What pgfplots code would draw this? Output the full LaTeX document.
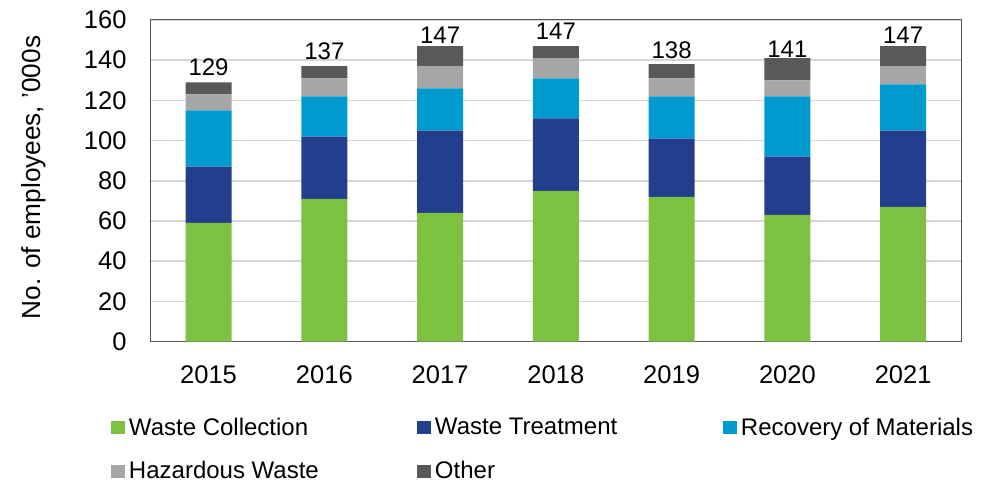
\documentclass[border=0pt]{standalone}
\usepackage{pgfplots}
\pgfplotsset{compat=1.18}
\usepackage{pgfplotstable}
\usepackage{fontspec}
\setmainfont{Liberation Sans}
\definecolor{cgreen}{HTML}{7DC142}
\definecolor{cdblue}{HTML}{233E8C}
\definecolor{clblue}{HTML}{009BCE}
\definecolor{cgray}{HTML}{A6A6A6}
\definecolor{cdgray}{HTML}{595959}
\definecolor{gridgray}{HTML}{D6D6D6}
\definecolor{framegray}{HTML}{555555}
\pgfplotstableread{
x wc wt rm hw ot total
0 59 28 28 8 6 129
1 71 31 20 9 6 137
2 64 41 21 11 10 147
3 75 36 20 10 6 147
4 72 29 21 9 7 138
5 63 29 30 8 11 141
6 67 38 23 9 10 147
}\datatab
\begin{document}
\begin{tikzpicture}
\path[use as bounding box] (0,0) rectangle (993pt,485pt);
\begin{axis}[
  at={(150.7pt,143.5pt)}, anchor=south west,
  width=810.3pt, height=321.5pt, scale only axis,
  ybar stacked, bar width=46pt,
  xmin=-0.5, xmax=6.5, ymin=0, ymax=160,
  enlargelimits=false,
  xtick={0,1,2,3,4,5,6},
  xticklabels={2015,2016,2017,2018,2019,2020,2021},
  ytick={0,20,...,160},
  ymajorgrids, grid style={line width=1.5pt, color=gridgray},
  major tick length=0pt,
  axis line style={draw=framegray, line width=1pt},
  /pgf/number format/assume math mode=true,
  tick label style={font=\fontsize{25.5}{30}\selectfont},
  yticklabel style={inner sep=0pt, xshift=-24pt},
  xticklabel style={inner sep=0pt, yshift=-23.5pt},
  ylabel={No. of employees, '000s},
  ylabel style={at={(axis description cs:-0.136,0.51)}, anchor=base, inner sep=0pt, font=\fontsize{26.2}{31}\selectfont},
  legend columns=3,
  legend cell align=left,
  legend image code/.code={\fill[#1] (0pt,-6.5pt) rectangle (14pt,6.5pt);},
  legend style={at={(axis description cs:-0.049,-0.237)}, anchor=north west,
    draw=none, fill=none, inner sep=0pt, outer sep=0pt,
    column sep=0pt, row sep=25pt,
    font=\fontsize{24}{28}\selectfont, nodes={inner sep=0pt}},
]
\addplot[fill=cgreen, draw=none] table[x=x, y=wc] {\datatab};
\addlegendentry{\makebox[292pt][l]{\hspace{4pt}Waste Collection}}
\addplot[fill=cdblue, draw=none] table[x=x, y=wt] {\datatab};
\addlegendentry{\makebox[292pt][l]{\hspace{4pt}Waste Treatment}}
\addplot[fill=clblue, draw=none] table[x=x, y=rm] {\datatab};
\addlegendentry{\makebox[250pt][l]{\hspace{4pt}Recovery of Materials}}
\addplot[fill=cgray, draw=none] table[x=x, y=hw] {\datatab};
\addlegendentry{\makebox[292pt][l]{\hspace{4pt}Hazardous Waste}}
\addplot[fill=cdgray, draw=none,
  point meta=explicit,
  nodes near coords,
  every node near coord/.append style={anchor=south, inner sep=0pt, yshift=12pt, font=\fontsize{24}{28}\selectfont, text=black}
  ] table[x=x, y=ot, meta=total] {\datatab};
\addlegendentry{\makebox[292pt][l]{\hspace{4pt}Other}}
\end{axis}
\end{tikzpicture}
\end{document}
